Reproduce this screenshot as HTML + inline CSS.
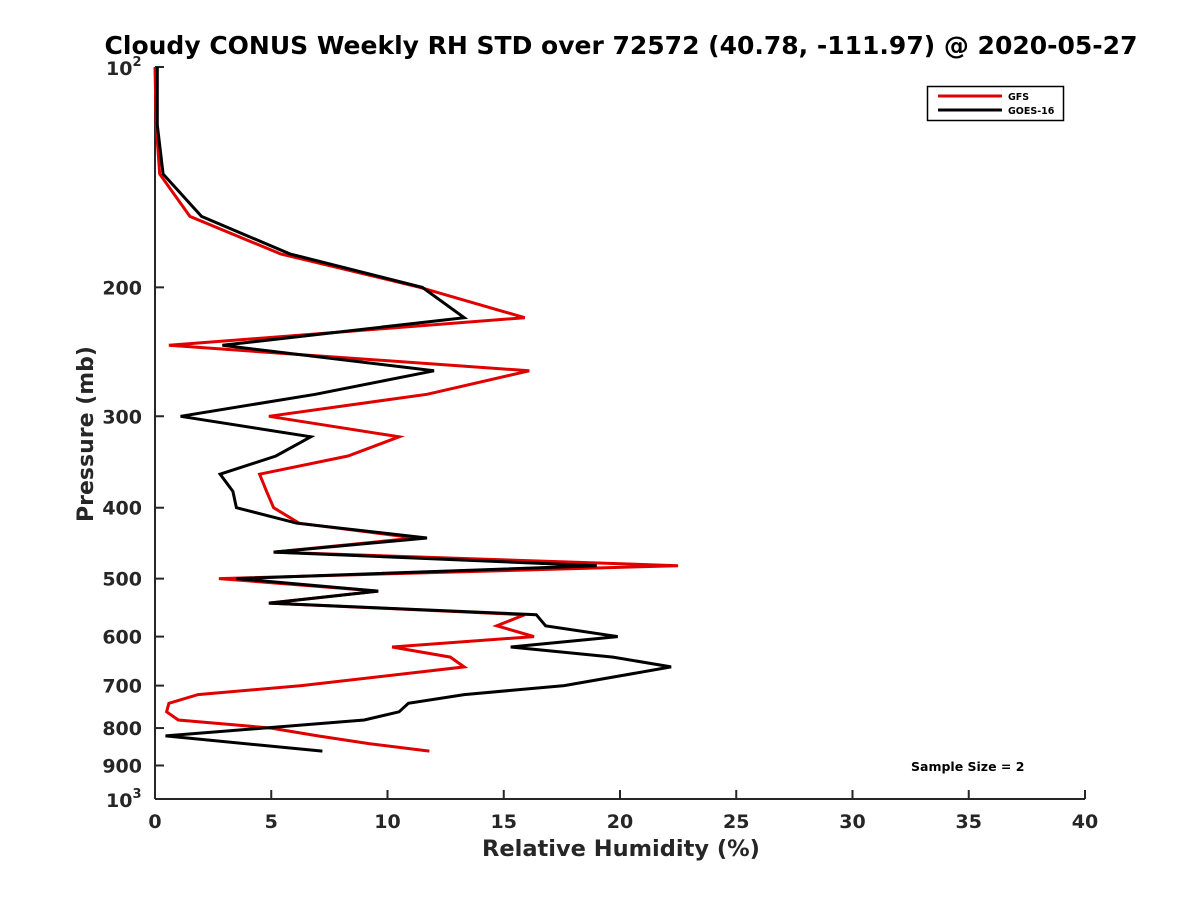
<!DOCTYPE html>
<html><head><meta charset="utf-8"><style>
html,body{margin:0;padding:0;background:#fff;}
svg text{font-family:"DejaVu Sans","Liberation Sans",sans-serif;font-weight:bold;fill:#262626;}
</style></head><body>
<svg id="chart" width="1200" height="900" viewBox="0 0 1200 900" xmlns="http://www.w3.org/2000/svg">
<rect width="1200" height="900" fill="#fff"/>
<text x="621" y="54" text-anchor="middle" font-size="25" style="fill:#000">Cloudy CONUS Weekly RH STD over 72572 (40.78, -111.97) @ 2020-05-27</text>
<g id="axes"></g>
<g id="series"></g>
<text x="621" y="856" text-anchor="middle" font-size="22.5">Relative Humidity (%)</text>
<text transform="translate(93,434) rotate(-90)" text-anchor="middle" font-size="22">Pressure (mb)</text>
<text x="911" y="771" font-size="12.5" style="fill:#000">Sample Size = 2</text>
<g>
<rect x="927.5" y="86.5" width="136" height="34" fill="#fff" stroke="#000" stroke-width="1.5"/>
<line x1="938" y1="96" x2="1002" y2="96" stroke="#e00000" stroke-width="3"/>
<text x="1008" y="100" font-size="9.5" style="fill:#000">GFS</text>
<line x1="938" y1="110" x2="1002" y2="110" stroke="#000" stroke-width="3"/>
<text x="1008" y="114" font-size="9.5" style="fill:#000">GOES-16</text>
</g>
</svg>
<script>
const levels=[100,120,140,160,180,200,220,240,260,280,300,320,340,360,380,400,420,440,460,480,500,520,540,560,580,600,620,640,660,700,720,740,760,780,800,820,840,860];
const gfsValues=[0,0.05,0.2,1.5,5.4,11.4,15.9,0.6,16.1,11.7,4.9,10.5,8.3,4.5,4.8,5.1,6.2,11.2,5.1,22.5,2.75,9.6,4.9,15.9,14.7,16.3,10.2,12.7,13.3,6.3,1.85,0.6,0.5,1.0,5.0,7.0,9.2,11.8];
const goesValues=[0.1,0.1,0.35,2.0,5.8,11.5,13.3,2.9,12.0,6.9,1.1,6.7,5.2,2.8,3.35,3.5,6.1,11.7,5.1,19.0,3.5,9.6,4.9,16.4,16.8,19.9,15.3,19.7,22.2,17.6,13.3,10.9,10.5,9.0,null,0.45,null,7.2];
const xTicks=[0,5,10,15,20,25,30,35,40];
const yTicks=[200,300,400,500,600,700,800,900];
const NS="http://www.w3.org/2000/svg";
const X0=155,X1=1085,Y0=67,Y1=799;
function xs(v){return X0+(v-0)/(40-0)*(X1-X0);}
function ys(p){return Y0+(Math.log10(p)-2)*(Y1-Y0);}
function mk(tag,attrs,parent){const e=document.createElementNS(NS,tag);for(const k in attrs)e.setAttribute(k,attrs[k]);parent.appendChild(e);return e;}
const ax=document.getElementById('axes');
const c="#262626";
let l=mk('line',{x1:X0,y1:Y0,x2:X0,y2:Y1,stroke:c,'stroke-width':2},ax);


l=mk('line',{x1:X0,y1:Y1,x2:X1,y2:Y1,stroke:c,'stroke-width':2},ax);


xTicks.forEach(v=>{
  const x=xs(v);
  const t=mk('line',{x1:x,y1:Y1,x2:x,y2:Y1-9,stroke:c,'stroke-width':2},ax);
  
  
  const tx=mk('text',{x:x,y:828,'text-anchor':'middle','font-size':19},ax);
  tx.textContent=v;
  
  
});
[100,1000].concat(yTicks).forEach(p=>{
  const y=ys(p);
  const t=mk('line',{x1:X0,y1:y,x2:X0+9,y2:y,stroke:c,'stroke-width':2},ax);
  
  
});
yTicks.forEach(p=>{
  const tx=mk('text',{x:142,y:ys(p)+7,'text-anchor':'end','font-size':19},ax);
  tx.textContent=p;
  
  
});
[[100,'2'],[1000,'3']].forEach(([p,e])=>{
  const tx=mk('text',{x:106,y:ys(p)+8,'font-size':19},ax);
  tx.textContent='10';
  
  
  const s=mk('tspan',{dy:-9,'font-size':13},tx);
  s.textContent=e;
});
const sg=document.getElementById('series');
function draw(vals,color,name){
  const pts=[];
  vals.forEach((v,i)=>{if(v!==null)pts.push(xs(v).toFixed(1)+','+ys(levels[i]).toFixed(1));});
  const pl=mk('polyline',{points:pts.join(' '),fill:'none',stroke:color,'stroke-width':3,'stroke-linejoin':'miter','stroke-miterlimit':4},sg);
  
  
}
draw(gfsValues,'#e00000','gfs-line');
draw(goesValues,'#000','goes16-line');
</script>
</body></html>
